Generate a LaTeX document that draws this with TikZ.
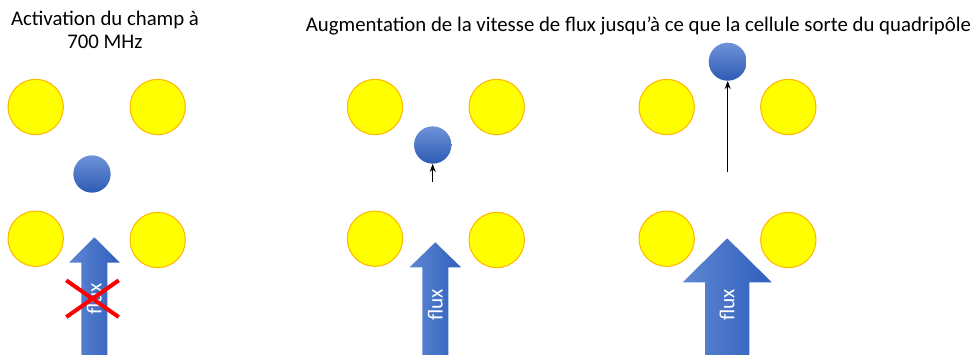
\documentclass[tikz,border=0pt]{standalone}
\usepackage{fontspec}
\setmainfont{Carlito}
\usetikzlibrary{arrows.meta,shapes.misc}

\definecolor{poleyellow}{HTML}{FFFF00}
\definecolor{poleborder}{HTML}{FFB800}
\definecolor{celltop}{HTML}{6E92D8}
\definecolor{cellbottom}{HTML}{2D5BB3}
\definecolor{flowleft}{HTML}{5F88D2}
\definecolor{flowright}{HTML}{2F5EBD}

\begin{document}
\begin{tikzpicture}[x=0.75pt, y=-0.75pt]
    \tikzstyle{pole} = [circle, draw=poleborder, fill=poleyellow, line width=0.8pt, minimum size=41.5pt, inner sep=0pt]
    \tikzstyle{cell} = [circle, top color=celltop, bottom color=cellbottom, minimum size=28pt, inner sep=0pt]
    \tikzstyle{flow} = [left color=flowleft, right color=flowright]
    \tikzstyle{fluxlabel} = [text=white, rotate=90, font=\fontsize{16}{18}\selectfont, inner sep=0pt]
    \tikzstyle{title} = [font=\fontsize{15.6}{17.5}\selectfont, align=center]
    \tikzstyle{arrow} = [line width=0.8pt, -{Stealth[length=6pt, width=4.5pt]}]

    \useasboundingbox (0,0) rectangle (978,354);

    % Titles
    \node [title, anchor=base] (title1) at (105,48.5) {Activation du champ à\\700 MHz};
    \node [title, anchor=base] (title2) at (638.5,31) {Augmentation de la vitesse de flux jusqu’à ce que la cellule sorte du quadripôle};

    % Quadrupole electrodes
    \foreach \n/\l/\r in {1/35.7/157.7, 2/375/496.7, 3/666.7/788.3} {
        \node [pole] (tl\n) at (\l,107) {};
        \node [pole] (tr\n) at (\r,107) {};
        \node [pole] (bl\n) at (\l,238.7) {};
        \node [pole] (br\n) at (\r,240) {};
    }

    % Cells
    \node [cell] (cell1) at (92,174) {};
    \node [cell] (cell2) at (432.7,145) {};
    \node [cell, minimum size=28.5pt] (cell3) at (727.7,61.7) {};

    % Flow arrows
    \foreach \n/\c/\s/\h/\b/\t/\y in {1/94.3/13/25.5/262.7/237.3/299, 2/435.3/13/25.8/267.3/242.3/305, 3/727.2/22.2/44.5/282.3/238.3/305} {
        \path [flow] (\c-\s,356) -- (\c-\s,\b) -- (\c-\h,\b) -- (\c,\t)
            -- (\c+\h,\b) -- (\c+\s,\b) -- (\c+\s,356) -- cycle;
        \node [fluxlabel] (flux\n) at (\c,\y) {flux};
    }

    % Flow stopped
    \node [cross out, draw=red, line width=3pt, minimum width=36.3pt, minimum height=24.5pt, inner sep=0pt] (stop) at (92.5,298.7) {};

    % Cell displacement
    \coordinate (start2) at (432.7,181.7);
    \coordinate (start3) at (727.7,172.3);
    \draw [arrow] (start2) -- (cell2);
    \draw [arrow] (start3) -- (cell3);
\end{tikzpicture}
\end{document}
